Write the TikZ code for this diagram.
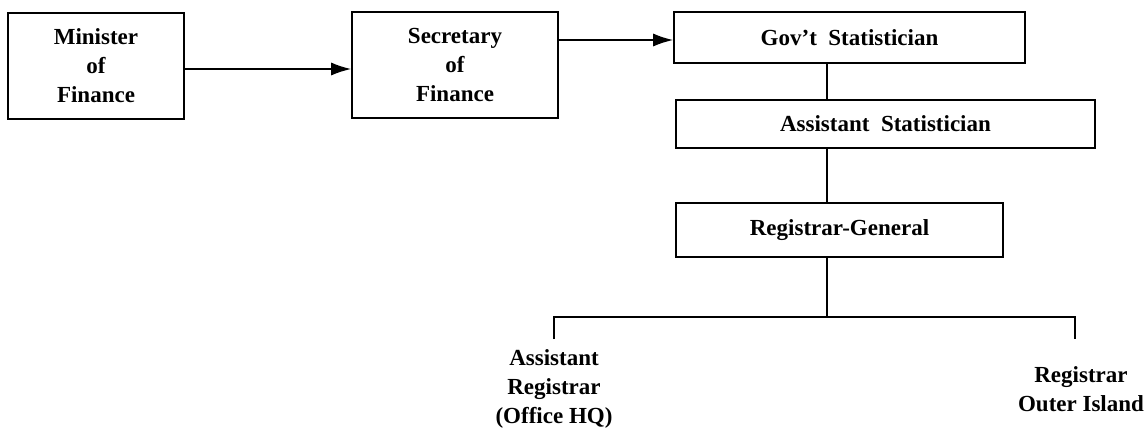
\documentclass[tikz,border=0pt]{standalone}
\usepackage{fontspec}
\setmainfont{Liberation Serif}
\usetikzlibrary{arrows.meta}
\begin{document}
\begin{tikzpicture}[x=1pt,y=-1pt,
  every node/.style={font=\fontsize{23}{29}\selectfont\bfseries},
  office/.style={draw, line width=1.6pt, rectangle, inner sep=0pt, align=center},
  link/.style={line width=1.6pt},
  flow/.style={line width=1.6pt, -{Latex[length=20pt,width=13pt]}},
  label/.style={inner sep=0pt, align=center, anchor=base}]
  \useasboundingbox (0,0) rectangle (1146,429);

  % top row of offices
  \node[office, minimum width=176pt, minimum height=106pt] (min) at (96,66)
    {Minister\\of\\Finance};
  \node[office, minimum width=206pt, minimum height=106pt] (sec) at (455,65)
    {Secretary\\of\\Finance};
  \node[office, minimum width=351pt, minimum height=51pt] (gov) at (849.5,37.5)
    {Gov'{}t\ \ Statistician};

  % chain down the statistics office
  \node[office, minimum width=419pt, minimum height=48pt] (ast) at (885.5,124)
    {Assistant\ \ Statistician};
  \node[office, minimum width=327pt, minimum height=54pt] (reg) at (839.5,230)
    {Registrar-General};

  % registrars at the foot (base anchor sits on the last line)
  \node[label] (ar) at (554,423) {Assistant\\Registrar\\(Office HQ)};
  \node[label] (ro) at (1081,411) {Registrar\\Outer Island};

  % reporting lines
  \draw[flow] (min.east |- 0,69) -- (sec.west |- 0,69);
  \draw[flow] (sec.east |- 0,40) -- (gov.west |- 0,40);
  \draw[link] (gov.south -| 827,0) -- (ast.north -| 827,0);
  \draw[link] (ast.south -| 827,0) -- (reg.north -| 827,0);

  \coordinate (split) at (827,317);
  \coordinate (busl) at (554,317);
  \coordinate (busr) at (1075,317);
  \coordinate (stubl) at (554,339);
  \coordinate (stubr) at (1075,339);
  \draw[link] (reg.south -| split) -- (split);
  \draw[link] (stubl) -- (busl) -- (busr) -- (stubr);
\end{tikzpicture}
\end{document}
